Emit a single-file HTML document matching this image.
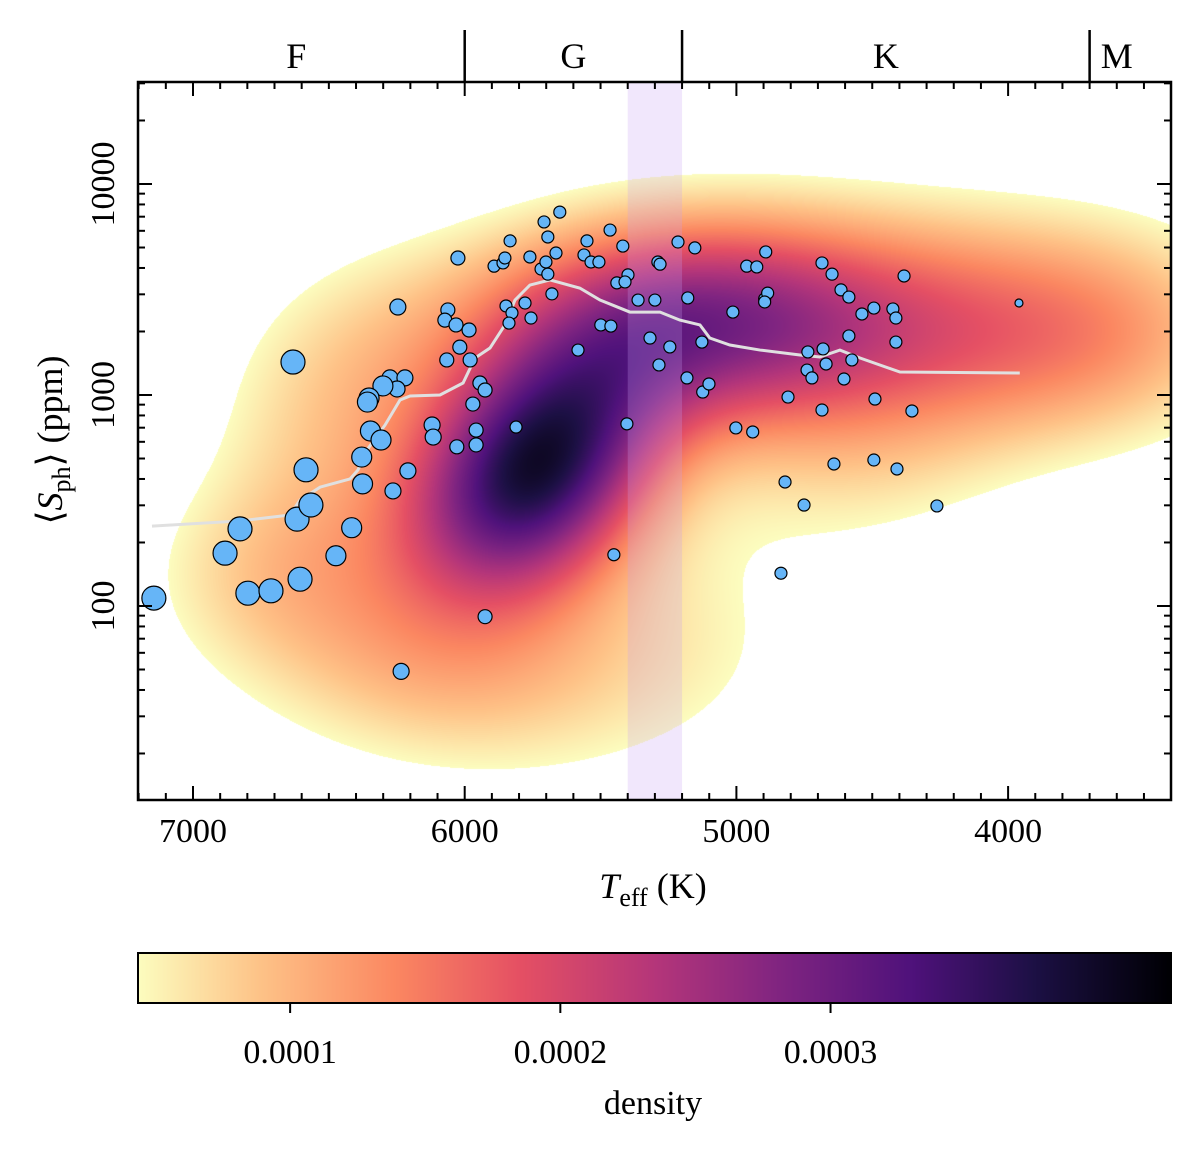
<!DOCTYPE html>
<html><head><meta charset="utf-8"><style>
html,body{margin:0;padding:0;background:#fff;}
#wrap{position:relative;width:1200px;height:1153px;overflow:hidden;}
canvas{position:absolute;}
svg{position:absolute;left:0;top:0;}
text{font-family:"Liberation Serif","DejaVu Serif",serif;fill:#000;}
</style></head><body>
<div id="wrap">
<canvas id="dens" width="1033" height="718" style="left:138px;top:82px"></canvas>
<canvas id="cbar" width="1033" height="50" style="left:138px;top:953px"></canvas>
<svg id="svg" width="1200" height="1153"></svg>
</div>
<script>
// ---- data ----
const teff=[7144,6827,6882,6798,6713,6606,6617,6566,6584,6632,6474,6416,6376,6379,6347,6264,6209,6234,5925,5970,6275,6220,6249,6301,6352,6358,6308,6246,6120,6116,6029,5958,5958,6025,6062,6073,6032,6018,6066,5984,5980,5944,5925,5892,5859,5852,5833,5848,5826,5837,5811,5760,5756,5778,5719,5708,5694,5701,5694,5679,5664,5650,5550,5561,5535,5506,5583,5499,5462,5465,5418,5440,5399,5410,5362,5318,5300,5285,5289,5281,5245,5215,5179,5153,5127,5182,5124,5101,5013,5002,4962,4925,4892,4896,4885,4896,4940,4810,4821,4836,4751,4737,4740,4722,4685,4670,4681,4685,4648,4641,4615,4586,4604,4586,4575,4538,4494,4490,4494,4424,4413,4413,4409,4383,4354,4262,3960,5403,5451];
const sph=[109,232,178,115,118,134,258,301,442,1433,173,235,379,508,675,351,437,49,89,906,1205,1205,1068,1104,968,926,612,2612,721,632,568,580,682,4460,2530,2263,2148,1686,1466,2033,1466,1140,1056,4080,4225,4460,5375,2642,2449,2193,705,4510,2317,2729,3955,6610,5610,4270,3740,3015,4710,7360,5375,4610,4270,4270,1633,2148,2122,6050,5080,3400,3710,3435,2818,1862,2818,1388,4270,4170,1690,5310,2884,4980,1782,1205,1033,1128,2472,698,4080,4045,4764,2853,3040,2760,668,978,387,143,301,1600,1313,1205,4225,1403,1653,849,3740,471,3150,2911,1191,1905,1466,2421,2582,957,492,2558,2317,1782,446,3665,840,298,2729,730,175];
const trendT=[7151,6827,6643,6606,6532,6422,6393,6360,6293,6238,6201,6091,6006,5962,5907,5852,5815,5760,5686,5576,5502,5392,5281,5208,5134,5098,5024,4913,4766,4693,4619,4545,4398,3957];
const trendS=[239,253,270,318,366,400,441,548,721,947,989,1000,1140,1497,1670,2148,2818,3320,3510,3210,2818,2472,2472,2265,2148,1862,1726,1633,1548,1514,1633,1497,1285,1271];
const xTicks=[7000,6000,5000,4000];
const yTicks=[100,1000,10000];
const cbTicks=[0.0001,0.0002,0.0003];
const specBounds=[6000,5200,3700];
const specLabels=["F","G","K","M"];
const specLabelT=[6620,5600,4450,3600];
// ---- scales ----
const X0=138,X1=1171,Y0=82,Y1=800;
const xs=t=>193+(7000-t)*0.2717;
const ys=s=>395-(Math.log10(s)-3)*211;
const VMIN=0.0000437,VMAX=0.000426;
const cbx=v=>138+(v-VMIN)/(VMAX-VMIN)*1033;
const NS="http://www.w3.org/2000/svg";
const svg=document.getElementById('svg');
function mk(tag,attrs,parent){const e=document.createElementNS(NS,tag);for(const k in attrs)e.setAttribute(k,attrs[k]);(parent||svg).appendChild(e);return e;}
// magma
const mg=[[0,0,0,4],[.13,28,16,68],[.25,79,18,123],[.38,129,37,129],[.5,181,54,122],[.63,229,80,100],[.75,251,135,97],[.88,254,194,135],[1,252,253,191]];
function magma(t){t=Math.max(0,Math.min(1,t));for(let i=1;i<mg.length;i++){if(t<=mg[i][0]){const a=mg[i-1],b=mg[i],f=(t-a[0])/(b[0]-a[0]);return [a[1]+(b[1]-a[1])*f,a[2]+(b[2]-a[2])*f,a[3]+(b[3]-a[3])*f];}}return [252,253,191];}
// density drawing (smooth shape approximation)
const comps=[[535,470,85,85,1.0,-0.3],[690,320,150,75,0.7,0],[960,330,170,85,0.35,0],[1110,330,110,75,0.15,0],[285,575,100,75,0.2,0],[570,640,180,105,0.19,0],[430,680,120,65,0.12,0],[860,470,110,65,0.1,0],[380,370,100,90,0.15,0],[320,440,90,90,0.1,0]];
(function(){
 const c=document.getElementById('dens'),ctx=c.getContext('2d'),W=c.width,H=c.height;
 const img=ctx.createImageData(W,H);let max=0;const arr=new Float32Array(W*H);
 for(let j=0;j<H;j++)for(let i=0;i<W;i++){const px=i+X0,py=j+Y0;let d=0;
  for(const [cx,cy,sx,sy,w,r] of comps){const dx=(px-cx)/sx,dy=(py-cy)/sy;d+=w*Math.exp(-0.5*(dx*dx+dy*dy-2*r*dx*dy)/(1-r*r));}
  arr[j*W+i]=d;if(d>max)max=d;}
 for(let k=0;k<W*H;k++){const v=arr[k]/max*0.00040;if(v<VMIN)continue;const col=magma(1-(v-VMIN)/(VMAX-VMIN));img.data[k*4]=col[0];img.data[k*4+1]=col[1];img.data[k*4+2]=col[2];img.data[k*4+3]=255;}
 ctx.putImageData(img,0,0);
 const cb=document.getElementById('cbar'),cc=cb.getContext('2d');
 for(let i=0;i<1033;i++){const col=magma(1-i/1032);cc.fillStyle=`rgb(${col[0]|0},${col[1]|0},${col[2]|0})`;cc.fillRect(i,0,1,50);}
})();
// band
const band=mk('rect',{x:xs(5400),y:Y0,width:xs(5200)-xs(5400),height:Y1-Y0,fill:'rgb(200,160,245)','fill-opacity':0.25});


// trend
const tl=mk('polyline',{points:trendT.map((t,i)=>xs(t)+','+ys(trendS[i])).join(' '),fill:'none',stroke:'#e0e0e0','stroke-width':3});


// points
teff.forEach((t,i)=>{
 let r=t>6500?12:t>6300?10:t>6100?8:t>5900?7:6;
 if(t<4000)r=4;
 const c=mk('circle',{cx:xs(t),cy:ys(sph[i]),r:r,fill:'#66b5f7',stroke:'#000','stroke-width':1.2});
 
 
});
// axes frame
const fr=mk('rect',{x:X0,y:Y0,width:X1-X0,height:Y1-Y0,fill:'none',stroke:'#000','stroke-width':2.5});


// x ticks
for(let t=7200;t>=3400;t-=100){const x=xs(t);if(x<X0||x>X1)continue;const maj=t%1000===0;const L=maj?14:7;
 mk('line',{x1:x,y1:Y1,x2:x,y2:Y1-L,stroke:'#000','stroke-width':2});
 mk('line',{x1:x,y1:Y0,x2:x,y2:Y0+L,stroke:'#000','stroke-width':2});}
xTicks.forEach(t=>{const e=mk('text',{x:xs(t),y:842,'text-anchor':'middle','font-size':34});e.textContent=t;
 
 });
// y ticks
for(let dec=1;dec<=4;dec++)for(let m=1;m<10;m++){const s=m*Math.pow(10,dec);const y=ys(s);if(y<Y0||y>Y1)continue;const L=m===1?14:7;
 mk('line',{x1:X0,y1:y,x2:X0+L,y2:y,stroke:'#000','stroke-width':2});
 mk('line',{x1:X1,y1:y,x2:X1-L,y2:y,stroke:'#000','stroke-width':2});}
yTicks.forEach(s=>{const y=ys(s);const e=mk('text',{x:0,y:0,'text-anchor':'middle','font-size':34,transform:`translate(114,${y}) rotate(-90)`});e.textContent=s;
 
 });
// spectral types
specBounds.forEach(t=>{const l=mk('line',{x1:xs(t),y1:30,x2:xs(t),y2:Y0,stroke:'#000','stroke-width':2.5});
 
 });
specLabels.forEach((s,i)=>{const e=mk('text',{x:xs(specLabelT[i]),y:68,'text-anchor':'middle','font-size':36});e.textContent=s;
 
 });
// axis titles
let e=mk('text',{x:653,y:898,'text-anchor':'middle','font-size':36});
e.innerHTML='<tspan font-style="italic">T</tspan><tspan font-size="26" dy="8">eff</tspan><tspan dy="-8"> (K)</tspan>';


e=mk('text',{x:0,y:0,'text-anchor':'middle','font-size':36,transform:'translate(62,440) rotate(-90)'});
e.innerHTML='⟨<tspan font-style="italic">S</tspan><tspan font-size="26" dy="8">ph</tspan><tspan dy="-8">⟩ (ppm)</tspan>';


// colorbar
const cbf=mk('rect',{x:138,y:953,width:1033,height:50,fill:'none',stroke:'#000','stroke-width':2});


cbTicks.forEach(v=>{const x=cbx(v);mk('line',{x1:x,y1:1003,x2:x,y2:1013,stroke:'#000','stroke-width':2});
 const t=mk('text',{x:x,y:1063,'text-anchor':'middle','font-size':34});t.textContent=v.toFixed(4);
 
 });
e=mk('text',{x:653,y:1114,'text-anchor':'middle','font-size':34});e.textContent='density';


</script>
</body></html>
